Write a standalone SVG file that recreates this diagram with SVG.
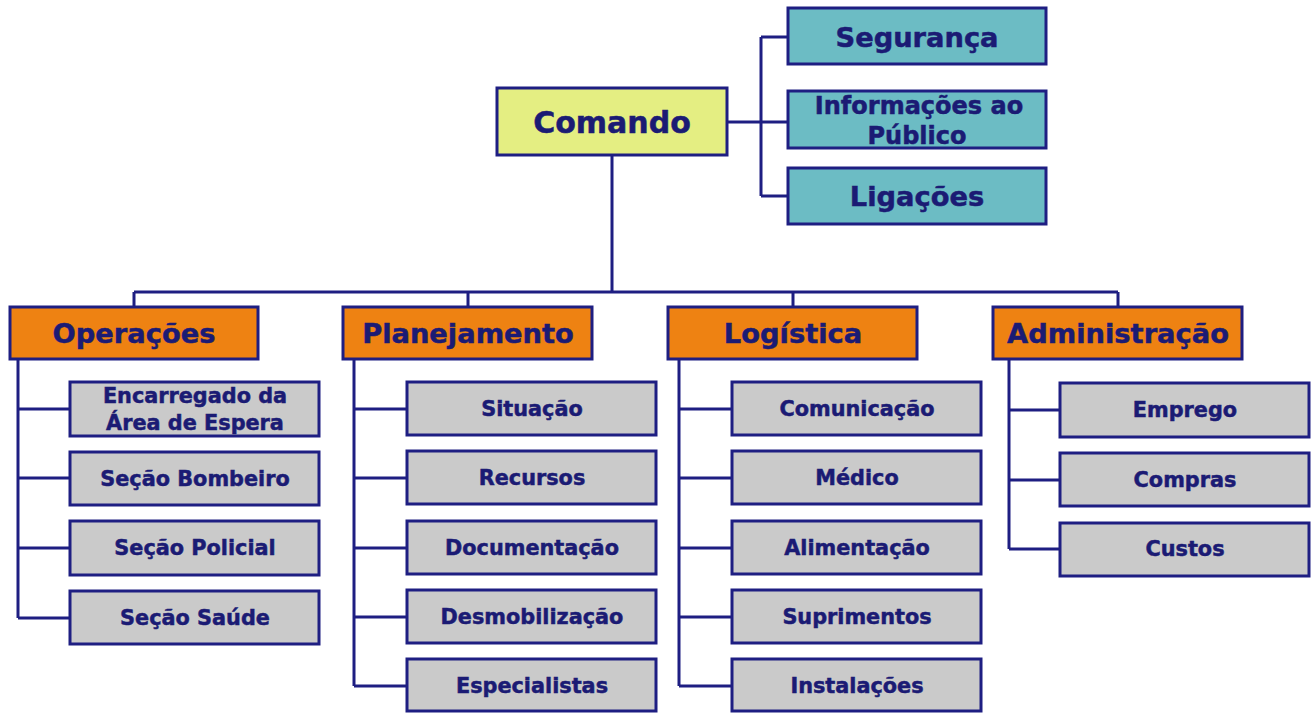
<svg xmlns="http://www.w3.org/2000/svg" width="1314" height="713" viewBox="0 0 1314 713">
<style>
.box{stroke:#1e1e82;stroke-width:3}
.cmd{fill:#e4ee82}
.teal{fill:#6cbcc4}
.org{fill:#ee8212}
.gry{fill:#cacaca}
text{font-family:"DejaVu Sans","Liberation Sans",sans-serif;font-weight:bold;fill:#1b1b74;stroke:#1b1b74;stroke-width:0.5;text-anchor:middle;dominant-baseline:central}
.t1{font-size:30px}
.t2{font-size:27.3px}
.t3{font-size:27.3px}
.t5{font-size:24px}
.t4{font-size:20.8px}
.conn path{fill:none;stroke:#1e1e82;stroke-width:3}
</style>
<rect width="1314" height="713" fill="#ffffff"/>
<g class="conn">
<path d="M727 122H788M761 37V196M761 37H788M761 196H788"/>
<path d="M612 155V292M134 292H1118M134 292V307M468 292V307M793 292V307M1118 292V307"/>
<path d="M18 359V618M18 409H70M18 478H70M18 548H70M18 618H70"/>
<path d="M354 359V686M354 409H407M354 478H407M354 548H407M354 617H407M354 686H407"/>
<path d="M679 359V686M679 409H732M679 478H732M679 548H732M679 617H732M679 686H732"/>
<path d="M1009 359V549M1009 410H1060M1009 480H1060M1009 549H1060"/>
</g>
<g id="comando"><rect class="box cmd" x="497" y="88" width="230" height="67"/><text class="t1" x="612" y="122">Comando</text></g>
<g id="seguranca"><rect class="box teal" x="788" y="8" width="258" height="56"/><text class="t3" x="917" y="37">Segurança</text></g>
<g id="informacoes"><rect class="box teal" x="788" y="91" width="258" height="57"/><text class="t5" x="919" y="106">Informações ao</text><text class="t5" x="917" y="136">Público</text></g>
<g id="ligacoes"><rect class="box teal" x="788" y="168" width="258" height="56"/><text class="t3" x="917" y="196">Ligações</text></g>
<g id="operacoes"><rect class="box org" x="10" y="307" width="248" height="52"/><text class="t2" x="134" y="333">Operações</text></g>
<g id="planejamento"><rect class="box org" x="343" y="307" width="249" height="52"/><text class="t2" x="468" y="333">Planejamento</text></g>
<g id="logistica"><rect class="box org" x="668" y="307" width="249" height="52"/><text class="t2" x="793" y="333">Logística</text></g>
<g id="administracao"><rect class="box org" x="993" y="307" width="249" height="52"/><text class="t2" x="1118" y="333">Administração</text></g>
<g id="encarregado"><rect class="box gry" x="70" y="382" width="249" height="54"/><text class="t4" x="195" y="396">Encarregado da</text><text class="t4" x="195" y="423">Área de Espera</text></g>
<g id="bombeiro"><rect class="box gry" x="70" y="452" width="249" height="53"/><text class="t4" x="195" y="479">Seção Bombeiro</text></g>
<g id="policial"><rect class="box gry" x="70" y="521" width="249" height="54"/><text class="t4" x="195" y="548">Seção Policial</text></g>
<g id="saude"><rect class="box gry" x="70" y="591" width="249" height="53"/><text class="t4" x="195" y="618">Seção Saúde</text></g>
<g id="situacao"><rect class="box gry" x="407" y="382" width="249" height="53"/><text class="t4" x="532" y="409">Situação</text></g>
<g id="recursos"><rect class="box gry" x="407" y="451" width="249" height="53"/><text class="t4" x="532" y="478">Recursos</text></g>
<g id="documentacao"><rect class="box gry" x="407" y="521" width="249" height="53"/><text class="t4" x="532" y="548">Documentação</text></g>
<g id="desmobilizacao"><rect class="box gry" x="407" y="590" width="249" height="53"/><text class="t4" x="532" y="617">Desmobilização</text></g>
<g id="especialistas"><rect class="box gry" x="407" y="659" width="249" height="52"/><text class="t4" x="532" y="686">Especialistas</text></g>
<g id="comunicacao"><rect class="box gry" x="732" y="382" width="249" height="53"/><text class="t4" x="857" y="409">Comunicação</text></g>
<g id="medico"><rect class="box gry" x="732" y="451" width="249" height="53"/><text class="t4" x="857" y="478">Médico</text></g>
<g id="alimentacao"><rect class="box gry" x="732" y="521" width="249" height="53"/><text class="t4" x="857" y="548">Alimentação</text></g>
<g id="suprimentos"><rect class="box gry" x="732" y="590" width="249" height="53"/><text class="t4" x="857" y="617">Suprimentos</text></g>
<g id="instalacoes"><rect class="box gry" x="732" y="659" width="249" height="52"/><text class="t4" x="857" y="686">Instalações</text></g>
<g id="emprego"><rect class="box gry" x="1060" y="383" width="249" height="54"/><text class="t4" x="1185" y="410">Emprego</text></g>
<g id="compras"><rect class="box gry" x="1060" y="453" width="249" height="53"/><text class="t4" x="1185" y="480">Compras</text></g>
<g id="custos"><rect class="box gry" x="1060" y="523" width="249" height="53"/><text class="t4" x="1185" y="549">Custos</text></g>
</svg>
